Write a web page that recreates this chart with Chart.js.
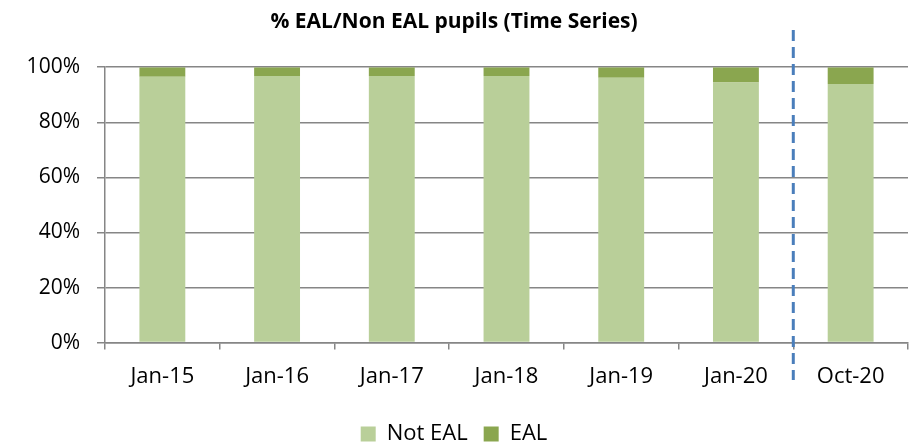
<!DOCTYPE html>
<html>
<head>
<meta charset="utf-8">
<script src="https://cdn.jsdelivr.net/npm/chart.js@4"></script>
<style>
  html, body { margin: 0; padding: 0; background: #ffffff; }
  #wrap { width: 915px; height: 444px; }
</style>
</head>
<body>
<div id="wrap"><canvas id="myChart" width="915" height="444"></canvas></div>
<script>
// Données (en %)
const periods = ['Jan-15', 'Jan-16', 'Jan-17', 'Jan-18', 'Jan-19', 'Jan-20', 'Oct-20'];
const notEal = [96.5, 96.8, 96.8, 96.8, 96.2, 94.4, 93.9];
const eal = [3.5, 3.2, 3.2, 3.2, 3.8, 5.6, 6.1];
const yTicks = [0, 20, 40, 60, 80, 100];

const police = '"Open Sans", "Liberation Sans", sans-serif';

// Ligne pointillée verticale entre Jan-20 et Oct-20
const dashedLine = {
    id: 'dashedLine',
    afterDatasetsDraw(chart) {
        const x = chart.scales.x;
        const px = (x.getPixelForValue(5) + x.getPixelForValue(6)) / 2;
        const ctx = chart.ctx;
        ctx.save();
        ctx.strokeStyle = '#4a7ebb';
        ctx.lineWidth = 3;
        ctx.setLineDash([11, 6]);
        ctx.beginPath();
        ctx.moveTo(px, 30);
        ctx.lineTo(px, 380);
        ctx.stroke();
        ctx.restore();
    }
};

const ctx = document.getElementById('myChart').getContext('2d');
new Chart(ctx, {
    type: 'bar',
    data: {
        labels: periods,
        datasets: [
            {
                label: 'Not EAL',
                data: notEal,
                backgroundColor: '#b9cf99',
                categoryPercentage: 1,
                barPercentage: 0.4
            },
            {
                label: 'EAL',
                data: eal,
                backgroundColor: '#8aa64f',
                categoryPercentage: 1,
                barPercentage: 0.4
            }
        ]
    },
    options: {
        responsive: false,
        animation: false,
        layout: { padding: { top: 5, right: 7, bottom: -11, left: 0 } },
        scales: {
            x: {
                stacked: true,
                afterFit(scale) { scale.height += 3; },
                grid: { display: true, drawOnChartArea: false, offset: true, color: '#868686', lineWidth: 1.5, tickLength: 7 },
                border: { color: '#868686', width: 1.5 },
                ticks: { color: '#000', font: { family: police, size: 22 }, padding: 14 }
            },
            y: {
                stacked: true,
                min: 0,
                max: 100,
                afterFit(scale) { scale.width = 105; },
                afterBuildTicks(scale) { scale.ticks = yTicks.map(v => ({ value: v })); },
                grid: { color: '#868686', lineWidth: 1.5, tickLength: 8 },
                border: { color: '#868686', width: 1.5 },
                ticks: {
                    color: '#000',
                    font: { family: police, size: 21 },
                    padding: 17,
                    callback: v => v + '%'
                }
            }
        },
        plugins: {
            title: {
                display: true,
                text: '% EAL/Non EAL pupils (Time Series)',
                color: '#000',
                font: { family: police, size: 21, weight: 'bold' },
                padding: { top: 4, bottom: 33 }
            },
            legend: {
                position: 'bottom',
                labels: {
                    color: '#000',
                    boxWidth: 15,
                    boxHeight: 15,
                    font: { family: police, size: 22 },
                    padding: 16
                }
            },
            tooltip: { enabled: false }
        }
    },
    plugins: [dashedLine]
});
</script>
</body>
</html>
